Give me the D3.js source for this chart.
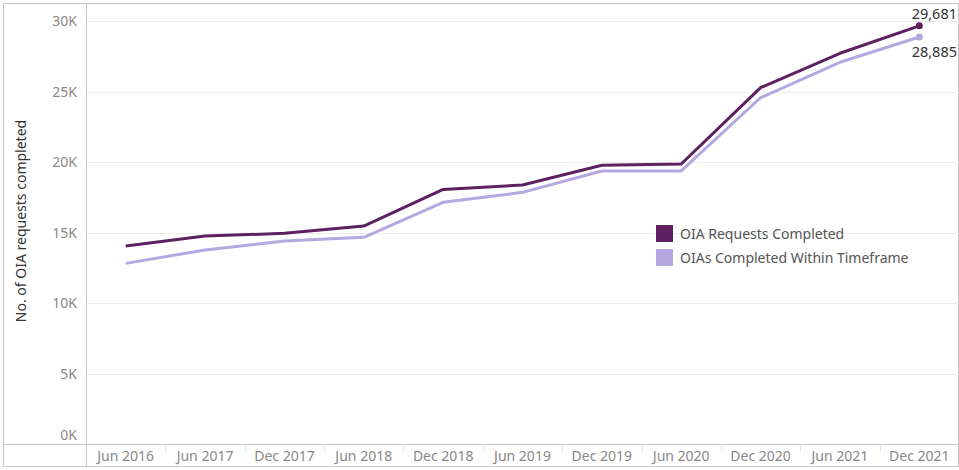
<!DOCTYPE html>
<html>
<head>
<meta charset="utf-8">
<script src="https://cdn.jsdelivr.net/npm/d3@7"></script>
<style>
  body { margin: 0; background: #fff; }
  text { font-family: "Noto Sans", "Open Sans", sans-serif; }
</style>
</head>
<body>
<svg id="chart"></svg>
<script>
var periods = ["Jun 2016", "Jun 2017", "Dec 2017", "Jun 2018", "Dec 2018", "Jun 2019",
               "Dec 2019", "Jun 2020", "Dec 2020", "Jun 2021", "Dec 2021"];
var completed = [14050, 14760, 14950, 15470, 18070, 18380, 19780, 19870, 25290, 27730, 29681];
var withinTime = [12820, 13770, 14400, 14670, 17150, 17860, 19380, 19380, 24580, 27090, 28885];
var yTicks = [0, 5000, 10000, 15000, 20000, 25000, 30000];
var seriesNames = ["OIA Requests Completed", "OIAs Completed Within Timeframe"];
var colors = ["#5d2161", "#b3a9e0"];

var W = 959, H = 470;
var svg = d3.select("#chart").attr("width", W).attr("height", H);

var left = 86, right = 959, bottom = 444;

var x = d3.scaleBand().domain(periods).range([left, right]);
var y = d3.scaleLinear().domain([0, 30000]).range([bottom, 21.3]);

// frame
svg.append("rect").attr("x", 3.5).attr("y", 3.5).attr("width", W - 4).attr("height", H - 7)
    .attr("fill", "none").attr("stroke", "#c8c8c8");

// gridlines
svg.append("g").selectAll("line").data(yTicks.slice(1)).join("line")
    .attr("x1", left).attr("x2", right)
    .attr("y1", function(d) { return Math.round(y(d)) + 0.5; })
    .attr("y2", function(d) { return Math.round(y(d)) + 0.5; })
    .attr("stroke", "#ececec");

// y axis
var yAxis = svg.append("g").attr("transform", "translate(" + (left - 6) + ",0)")
    .call(d3.axisLeft(y).tickValues(yTicks).tickSize(0)
        .tickFormat(function(d) { return (d / 1000) + "K"; }));
yAxis.select(".domain").remove();
yAxis.selectAll("text").attr("fill", "#888").style("font-size", "14px")
    .attr("dy", function(d) { return d === 0 ? "-0.3em" : "0.32em"; });

svg.append("line").attr("x1", left + 0.5).attr("x2", left + 0.5).attr("y1", 3).attr("y2", H - 3)
    .attr("stroke", "#c8c8c8");

// x axis band
svg.append("line").attr("x1", 3).attr("x2", W).attr("y1", bottom + 0.5).attr("y2", bottom + 0.5)
    .attr("stroke", "#c8c8c8");
svg.append("g").selectAll("line").data(periods.slice(1)).join("line")
    .attr("x1", function(d) { return Math.round(x(d)) + 0.5; })
    .attr("x2", function(d) { return Math.round(x(d)) + 0.5; })
    .attr("y1", bottom).attr("y2", bottom + 7)
    .attr("stroke", "#e4e4e4");
var xAxis = svg.append("g").attr("transform", "translate(0," + bottom + ")")
    .call(d3.axisBottom(x).tickSize(0).tickPadding(7));
xAxis.select(".domain").remove();
xAxis.selectAll("text").attr("fill", "#888").style("font-size", "14px");

// y title
svg.append("text")
    .attr("transform", "translate(26,221) rotate(-90)")
    .attr("text-anchor", "middle")
    .attr("fill", "#333")
    .style("font-size", "14px")
    .text("No. of OIA requests completed");

// lines
var line = d3.line()
    .x(function(d, i) { return x(periods[i]) + x.bandwidth() / 2; })
    .y(function(d) { return y(d); });

[withinTime, completed].forEach(function(s, k) {
    var c = k === 0 ? colors[1] : colors[0];
    svg.append("path").datum(s).attr("d", line)
        .attr("fill", "none").attr("stroke", c).attr("stroke-width", 3)
        .attr("stroke-linejoin", "round");
    var last = s.length - 1;
    svg.append("circle")
        .attr("cx", x(periods[last]) + x.bandwidth() / 2)
        .attr("cy", y(s[last]))
        .attr("r", 3.5).attr("fill", c);
});

// end labels
svg.append("text").attr("x", 957).attr("y", y(completed[10]) - 7)
    .attr("text-anchor", "end").attr("fill", "#333").style("font-size", "14.5px")
    .text(d3.format(",")(completed[10]));
svg.append("text").attr("x", 957).attr("y", y(withinTime[10]) + 20)
    .attr("text-anchor", "end").attr("fill", "#333").style("font-size", "14.5px")
    .text(d3.format(",")(withinTime[10]));

// legend
var lg = svg.append("g").attr("transform", "translate(656,225)");
seriesNames.forEach(function(n, i) {
    lg.append("rect").attr("x", 0).attr("y", i * 24).attr("width", 17).attr("height", 17)
        .attr("fill", colors[i]);
    lg.append("text").attr("x", 24).attr("y", i * 24 + 14)
        .attr("fill", "#555").style("font-size", "14px").text(n);
});
</script>
</body>
</html>
